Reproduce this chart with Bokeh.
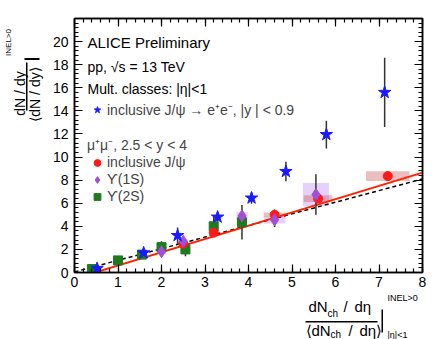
from math import pi
from bokeh.plotting import figure
from bokeh.layouts import row, column
from bokeh.models import (ColumnDataSource, LinearAxis, Label, Range1d, FixedTicker,
                          Legend, LegendItem, BoxAnnotation)
from bokeh.embed import file_html
from bokeh.resources import INLINE

FONT = "Liberation Sans"

# ---------------- data ----------------
x_ticks = [0, 1, 2, 3, 4, 5, 6, 7, 8]
y_ticks = [0, 2, 4, 6, 8, 10, 12, 14, 16, 18, 20]

# inclusive J/psi -> e+e-, |y|<0.9
jpsi_ee_x = [0.52, 1.59, 2.37, 3.29, 4.07, 4.86, 5.79, 7.13]
jpsi_ee_y = [0.35, 1.70, 3.20, 4.80, 6.45, 8.75, 11.95, 15.60]
jpsi_ee_err = [0.15, 0.20, 0.70, 0.40, 0.50, 0.85, 1.20, 3.00]

# inclusive J/psi, mu+mu-, 2.5<y<4
jpsi_mm_x = [2.50, 3.20, 4.60, 5.60, 7.20]
jpsi_mm_y = [2.50, 3.45, 5.00, 6.40, 8.35]
jpsi_mm_err = [0.20, 0.20, 0.45, 0.30, 0.40]
jpsi_mm_sysx = [0.10, 0.10, 0.25, 0.33, 0.50]
jpsi_mm_sysy = [0.15, 0.15, 0.20, 0.30, 0.43]

# Upsilon(1S)
ups1_x = [2.00, 2.50, 3.85, 4.60, 5.55]
ups1_y = [1.80, 2.70, 4.90, 4.55, 6.75]
ups1_err = [0.30, 0.30, 0.50, 0.60, 1.75]
ups1_sysx = [0.10, 0.10, 0.13, 0.25, 0.30]
ups1_sysy = [0.20, 0.20, 0.35, 0.30, 1.00]

# Upsilon(2S)
ups2_x = [0.40, 1.00, 1.55, 2.00, 2.55, 3.20, 3.85]
ups2_y = [0.30, 1.05, 1.55, 2.20, 2.00, 4.00, 4.35]
ups2_err = [0.20, 0.15, 0.20, 0.50, 0.60, 0.80, 1.50]

# reference lines
fit_x = [0.30, 8.00]
fit_y = [-0.20, 8.65]
diag_x = [0.00, 8.00]
diag_y = [0.05, 8.10]


def src(x, y, err, sx=None, sy=None):
    d = dict(x=x, y=y, lo=[a - b for a, b in zip(y, err)], hi=[a + b for a, b in zip(y, err)])
    if sx is not None:
        d.update(left=[a - b for a, b in zip(x, sx)], right=[a + b for a, b in zip(x, sx)],
                 bottom=[a - b for a, b in zip(y, sy)], top=[a + b for a, b in zip(y, sy)])
    return ColumnDataSource(d)


s_ee = src(jpsi_ee_x, jpsi_ee_y, jpsi_ee_err)
s_mm = src(jpsi_mm_x, jpsi_mm_y, jpsi_mm_err, jpsi_mm_sysx, jpsi_mm_sysy)
s_u1 = src(ups1_x, ups1_y, ups1_err, ups1_sysx, ups1_sysy)
s_u2 = src(ups2_x, ups2_y, ups2_err)

# ---------------- main plot ----------------
p = figure(width=390, height=292, output_backend="svg", toolbar_location=None, title=None,
           x_range=Range1d(0, 8), y_range=Range1d(0, 22),
           min_border_left=28, min_border_right=14, min_border_top=18, min_border_bottom=20)
p.grid.visible = False
p.outline_line_color = "black"
p.outline_line_width = 1.5
p.background_fill_color = "white"
p.border_fill_color = "white"

bottom_ax = p.below[0]
left_ax = p.left[0]
xt = FixedTicker(ticks=x_ticks, minor_ticks=[i * 0.2 for i in range(41)])
yt = FixedTicker(ticks=y_ticks, minor_ticks=[i * 0.4 for i in range(56)])
bottom_ax.ticker = xt
left_ax.ticker = yt

top_ax = LinearAxis(ticker=xt)
right_ax = LinearAxis(ticker=yt)
p.add_layout(top_ax, "above")
p.add_layout(right_ax, "right")

for ax in [bottom_ax, left_ax, top_ax, right_ax]:
    ax.major_tick_in = 8
    ax.major_tick_out = 0
    ax.minor_tick_in = 4
    ax.minor_tick_out = 0
    ax.axis_line_width = 1.5
    ax.major_tick_line_width = 1.2
    ax.minor_tick_line_width = 1.2
    ax.major_label_text_font = FONT
    ax.major_label_text_font_size = "14px"
    ax.major_label_text_color = "black"
top_ax.major_label_overrides = {t: "" for t in x_ticks}
right_ax.major_label_overrides = {t: "" for t in y_ticks}
for ax in [top_ax, right_ax]:
    ax.major_label_standoff = 0
bottom_ax.major_label_standoff = 4
left_ax.major_label_standoff = 6

# systematic boxes
p.quad(left="left", right="right", bottom="bottom", top="top", source=s_u1,
       fill_color="#b57cf0", fill_alpha=0.35, line_color=None)
p.quad(left="left", right="right", bottom="bottom", top="top", source=s_mm,
       fill_color="#c84848", fill_alpha=0.35, line_color=None)

# lines
p.line(diag_x, diag_y, line_color="black", line_width=1.5, line_dash="4 3")
p.line(fit_x, fit_y, line_color="#ff2200", line_width=2)

# error bars
for s in [s_ee, s_mm, s_u1, s_u2]:
    p.segment(x0="x", y0="lo", x1="x", y1="hi", source=s, line_color="#333333", line_width=1.5)

r_u2 = p.scatter("x", "y", source=s_u2, marker="square", size=9, color="#1e7a1e")
r_mm = p.scatter("x", "y", source=s_mm, marker="circle", size=9, color="#ff1a1a")
r_u1 = p.scatter("x", "y", source=s_u1, marker="diamond", size=12, color="#a04fd6")
r_ee = p.scatter("x", "y", source=s_ee, marker="star", size=13, color="#1a1aff")

# legends
leg1 = Legend(items=[LegendItem(label="inclusive J/ψ → e⁺e⁻, |y | < 0.9", renderers=[r_ee])],
              location=(13, 153.5))
leg2 = Legend(items=[LegendItem(label="inclusive J/ψ", renderers=[r_mm]),
                     LegendItem(label="ϒ(1S)", renderers=[r_u1]),
                     LegendItem(label="ϒ(2S)", renderers=[r_u2])],
              title="μ⁺μ⁻, 2.5 < y < 4", location=(13, 67.5))
for lg in [leg1, leg2]:
    lg.padding = 0
    lg.margin = 0
    lg.border_line_color = None
    lg.background_fill_alpha = 0
    lg.glyph_width = 20
    lg.glyph_height = 17
    lg.label_height = 17
    lg.spacing = 0
    lg.label_standoff = 0
    lg.label_text_font = FONT
    lg.label_text_font_size = "14px"
    lg.label_text_baseline = "middle"
    lg.title_text_font = FONT
    lg.title_text_font_size = "14px"
    lg.title_text_font_style = "normal"
    lg.title_standoff = 0
    p.add_layout(lg)


def lab(fig, text, x, y, size="14px", align="left", angle=0.0):
    fig.add_layout(Label(text=text, x=x, y=y, x_units="screen", y_units="screen",
                         text_font=FONT, text_font_size=size, text_align=align,
                         text_baseline="middle", angle=angle, text_color="black"))


def bar(fig, l, r, b, t):
    fig.add_layout(BoxAnnotation(left=l, right=r, bottom=b, top=t,
                                 left_units="screen", right_units="screen",
                                 bottom_units="screen", top_units="screen",
                                 fill_color="black", fill_alpha=1, line_color=None))


lab(p, "ALICE Preliminary", 13, 230, size="15px")
lab(p, "pp, √s = 13 TeV", 13, 206)
lab(p, "Mult. classes: |η|<1", 13, 184)


def blank(w, h, bl, br, bt, bb):
    f = figure(width=w, height=h, output_backend="svg", toolbar_location=None, title=None,
               x_range=Range1d(0, 1), y_range=Range1d(0, 1),
               x_axis_location=None, y_axis_location=None,
               min_border_left=bl, min_border_right=br, min_border_top=bt, min_border_bottom=bb)
    f.grid.visible = False
    f.outline_line_color = None
    f.background_fill_color = "white"
    f.border_fill_color = "white"
    return f


# ---------------- y-axis title panel (frame = whole canvas, X 0..46, Y 0..339) ----------------
ly = blank(46, 339, 0, 0, 0, 0)
lab(ly, "dN / dy", 19, 246, size="14px", align="center", angle=pi / 2)
bar(ly, 25.5, 27, 229, 277)
lab(ly, "⟨dN / dy⟩", 34, 245, size="14px", align="center", angle=pi / 2)
bar(ly, 24, 39, 279.5, 281.5)
lab(ly, "INEL>0", 8, 297, size="8px", align="center", angle=pi / 2)

# ---------------- x-axis title panel (frame X 74..422, Y 292..339) ----------------
bx = blank(390, 47, 28, 14, 0, 0)
lab(bx, "dN", 234, 33, size="15px")
lab(bx, "ch", 253, 26, size="10px")
lab(bx, "/", 269, 33, size="15px")
lab(bx, "dη", 280, 33, size="15px")
bar(bx, 231, 303, 17, 18.5)
lab(bx, "⟨dN", 231, 9, size="15px")
lab(bx, "ch", 256, 5, size="10px")
lab(bx, "/", 274, 9, size="15px")
lab(bx, "dη⟩", 285, 9, size="15px")
bar(bx, 307, 308.5, 7, 30)
lab(bx, "INEL>0", 313, 42, size="9px")
lab(bx, "|η|<1", 313, 5, size="9px")

layout = row(ly, column(p, bx))
open("out.html", "w").write(file_html(layout, INLINE))
